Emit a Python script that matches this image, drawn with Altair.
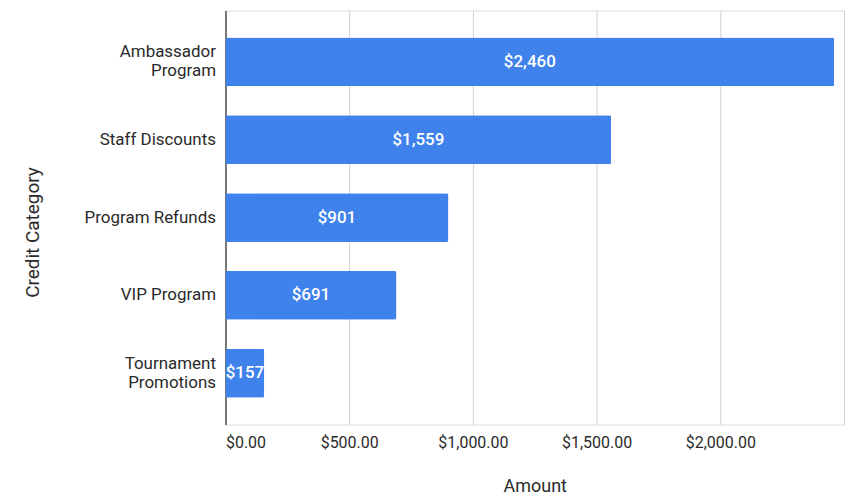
import altair as alt
import pandas as pd

categories = ["Ambassador Program", "Staff Discounts", "Program Refunds", "VIP Program", "Tournament Promotions"]
amounts = [2460, 1559, 901, 691, 157]

df = pd.DataFrame({"Credit Category": categories, "Amount": amounts})
df["half"] = df["Amount"] / 2

FONT = "Roboto"
BLUE = "#3F82EC"
TXT = "#2a2a2a"

label_expr = ("datum.label == 'Ambassador Program' ? ['Ambassador', 'Program'] : "
              "datum.label == 'Tournament Promotions' ? ['Tournament', 'Promotions'] : datum.label")
two_line = "datum.value == 'Ambassador Program' || datum.value == 'Tournament Promotions'"

y_enc = alt.Y("Credit Category:N", sort=categories,
              scale=alt.Scale(paddingInner=0.372, paddingOuter=0.346),
              axis=alt.Axis(title="Credit Category", labelExpr=label_expr, labelFont=FONT,
                            labelFontSize=17, labelColor=TXT, labelLineHeight=19,
                            labelOffset=alt.condition(two_line, alt.value(-9.5), alt.value(0)),
                            labelPadding=10, ticks=False, grid=False, domain=True,
                            domainColor="#333", domainWidth=1.2, titleFont=FONT,
                            titleFontSize=19, titleFontWeight="normal", titleColor=TXT,
                            titlePadding=42, titleY=222))

bars = alt.Chart(df).mark_bar(color=BLUE, cornerRadiusTopRight=2, cornerRadiusBottomRight=2).encode(
    x=alt.X("Amount:Q", scale=alt.Scale(domain=[0, 2500], nice=False),
            axis=alt.Axis(title="Amount", format="$,.2f", values=[0, 500, 1000, 1500, 2000, 2500],
                          labelExpr="datum.value == 2500 ? '' : datum.label",
                          labelFont=FONT, labelFontSize=16, labelColor=TXT, labelPadding=10,
                          ticks=False, domain=False, grid=True, gridColor="#d0d0d0",
                          titleFont=FONT, titleFontSize=18, titleFontWeight="normal",
                          titleColor=TXT, titlePadding=27)),
    y=y_enc,
)

text = alt.Chart(df).mark_text(color="white", font=FONT, fontSize=17, fontWeight=500,
                               align="center", baseline="middle").encode(
    x=alt.X("half:Q"),
    y=alt.Y("Credit Category:N", sort=categories),
    text=alt.Text("Amount:Q", format="$,.0f"),
)

chart = alt.layer(bars, text).properties(
    width=620, height=415,
    autosize=alt.AutoSizeParams(type="none"),
    padding={"left": 218, "top": 2, "right": 5, "bottom": 70},
).configure_view(stroke=None).configure(background="white")

chart.save("out.html", embed_options={"renderer": "svg", "actions": False})
